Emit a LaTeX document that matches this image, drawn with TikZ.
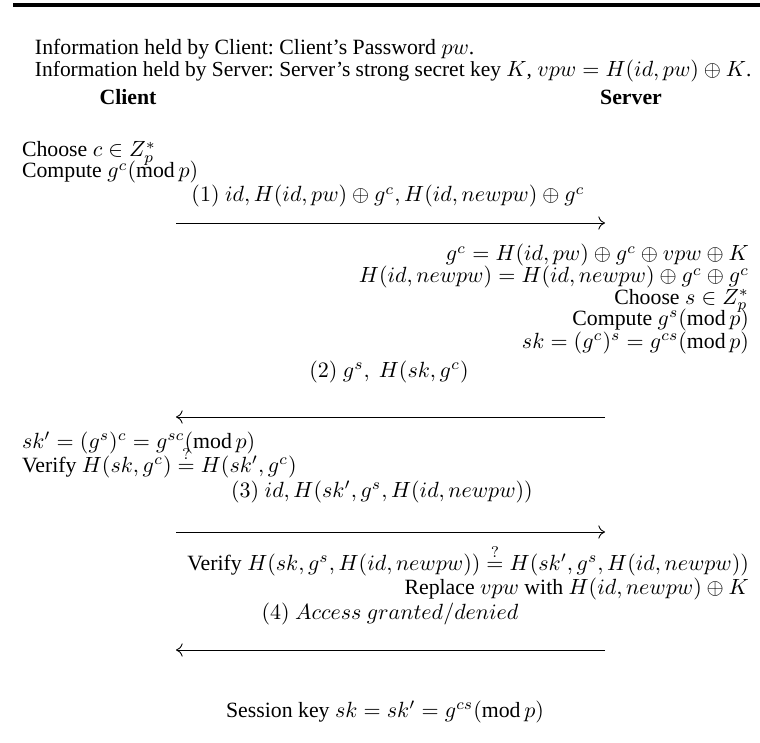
\documentclass[tikz,border=0pt]{standalone}
\usepackage{fontspec}
\setmainfont{Liberation Serif}
\usetikzlibrary{arrows.meta}
\frenchspacing

\begin{document}
\begin{tikzpicture}[x=0.4545pt, y=-0.4545pt]
	\tikzstyle{txt} = [
		inner sep=0pt, outer sep=0pt, font=\fontsize{9.9}{12}\selectfont
	]
	\tikzstyle{client_col} = [
		txt, anchor=base west
	]
	\tikzstyle{server_col} = [
		txt, anchor=base east
	]
	\tikzstyle{msg} = [
		txt, anchor=base
	]
	\tikzstyle{conn} = [
		line width=0.4pt, -{To[length=3pt, width=6pt]}
	]

	\useasboundingbox (0,0) rectangle (760,743);
	% Top rule
	\coordinate (rule_l) at (13,5);
	\coordinate (rule_r) at (760,5);
	\draw[line width=1.4pt] (rule_l) -- (rule_r);

	% Header
	\node (info_client) [client_col] at (35,55) {Information held by Client: Client's Password $pw$.};
	\node (info_server) [client_col, font=\fontsize{9.75}{12}\selectfont] at (35,77) {Information held by Server: Server's strong secret key $K$, $vpw=H(id,pw)\oplus K$.};
	\node (client) [msg, font=\fontsize{9.9}{12}\selectfont\bfseries] at (128,105) {Client};
	\node (server) [msg, font=\fontsize{9.9}{12}\selectfont\bfseries] at (631,105) {Server};

	% Client: step 1
	\node (choose_c) [client_col] at (22,157) {Choose $c\in Z_p^*$};
	\node (compute_gc) [client_col] at (22,178) {Compute $g^c(\mathrm{mod}\,p)$};
	\node (msg1) [msg] at (388,202) {$(1)\ id, H(id,pw)\oplus g^c, H(id,newpw)\oplus g^c$};
	\coordinate (m1_l) at (176,223);
	\coordinate (m1_r) at (605,223);
	\draw[conn] (m1_l) -- (m1_r);

	% Server: step 2
	\node (srv_gc) [server_col] at (749,261) {$g^c=H(id,pw)\oplus g^c\oplus vpw\oplus K$};
	\node (srv_hnew) [server_col] at (749,283) {$H(id,newpw)=H(id,newpw)\oplus g^c\oplus g^c$};
	\node (choose_s) [server_col] at (749,304) {Choose $s\in Z_p^*$};
	\node (compute_gs) [server_col] at (749,325) {Compute $g^s(\mathrm{mod}\,p)$};
	\node (srv_sk) [server_col] at (749,348) {$sk=(g^c)^s=g^{cs}(\mathrm{mod}\,p)$};
	\node (msg2) [msg] at (389,377) {$(2)\ g^s,\ H(sk,g^c)$};
	\coordinate (m2_l) at (176,417);
	\coordinate (m2_r) at (605,417);
	\draw[conn] (m2_r) -- (m2_l);

	% Client: step 3
	\node (cl_sk) [client_col] at (22,448) {$sk'=(g^s)^c=g^{sc}(\mathrm{mod}\,p)$};
	\node (cl_verify) [client_col] at (22,472) {Verify $H(sk,g^c)\stackrel{?}{=}H(sk',g^c)$};
	\node (msg3) [msg] at (382,497) {$(3)\ id, H(sk',g^s,H(id,newpw))$};
	\coordinate (m3_l) at (176,532);
	\coordinate (m3_r) at (605,532);
	\draw[conn] (m3_l) -- (m3_r);

	% Server: step 4
	\node (srv_verify) [server_col] at (749,570) {Verify $H(sk,g^s,H(id,newpw))\stackrel{?}{=}H(sk',g^s,H(id,newpw))$};
	\node (srv_replace) [server_col] at (749,594) {Replace $vpw$ with $H(id,newpw)\oplus K$};
	\node (msg4) [msg] at (390,619) {$(4)\ Access\ granted/denied$};
	\coordinate (m4_l) at (176,650);
	\coordinate (m4_r) at (605,650);
	\draw[conn] (m4_r) -- (m4_l);

	% Session key
	\node (session) [msg] at (385,717) {Session key $sk=sk'=g^{cs}(\mathrm{mod}\,p)$};
\end{tikzpicture}
\end{document}
